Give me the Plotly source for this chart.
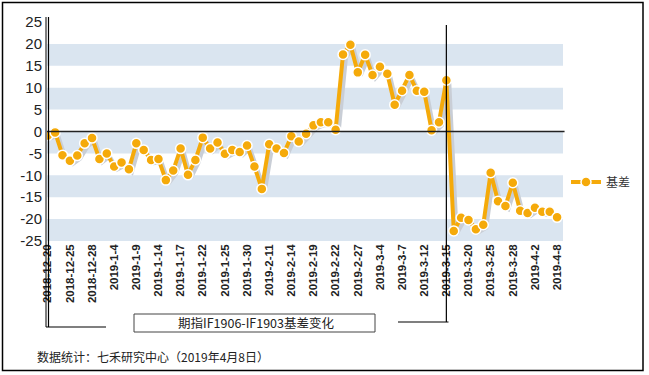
import plotly.graph_objects as go
import numpy as np

dates = ["2018-12-20","2018-12-21","2018-12-24","2018-12-25","2018-12-26","2018-12-27","2018-12-28",
         "2019-1-2","2019-1-3","2019-1-4","2019-1-7","2019-1-8","2019-1-9","2019-1-10","2019-1-11",
         "2019-1-14","2019-1-15","2019-1-16","2019-1-17","2019-1-18","2019-1-21","2019-1-22","2019-1-23",
         "2019-1-24","2019-1-25","2019-1-28","2019-1-29","2019-1-30","2019-1-31","2019-2-1",
         "2019-2-11","2019-2-12","2019-2-13","2019-2-14","2019-2-15","2019-2-18","2019-2-19","2019-2-20",
         "2019-2-21","2019-2-22","2019-2-25","2019-2-26","2019-2-27","2019-2-28","2019-3-1",
         "2019-3-4","2019-3-5","2019-3-6","2019-3-7","2019-3-8","2019-3-11","2019-3-12","2019-3-13",
         "2019-3-14","2019-3-15","2019-3-18","2019-3-19","2019-3-20","2019-3-21","2019-3-22",
         "2019-3-25","2019-3-26","2019-3-27","2019-3-28","2019-3-29","2019-4-1","2019-4-2","2019-4-3",
         "2019-4-4","2019-4-8"]

basis = [-0.9,-0.2,-5.4,-6.7,-5.5,-2.7,-1.5,-6.3,-5.0,-8.0,-7.1,-8.6,-2.7,-4.2,-6.5,-6.3,-11.1,-8.9,-3.9,
         -9.9,-6.5,-1.4,-3.9,-2.5,-5.1,-4.2,-4.7,-3.2,-8.0,-13.1,-2.9,-3.9,-4.9,-1.1,-2.3,-0.5,1.4,2.1,2.1,
         0.4,17.6,19.8,13.5,17.5,12.9,14.8,13.2,6.1,9.3,12.9,9.3,9.1,0.3,2.1,11.7,-22.7,-19.7,-20.2,-22.3,
         -21.3,-9.4,-15.9,-17.0,-11.7,-18.1,-18.6,-17.4,-18.3,-18.3,-19.6]

series_name = "基差"
y_ticks = [25, 20, 15, 10, 5, 0, -5, -10, -15, -20, -25]
title_text = "期指IF1906-IF1903基差变化"
source_text = "数据统计：七禾研究中心（2019年4月8日）"
marker_date = "2019-3-15"

W_FIG, H_FIG = 649, 375
L, R, T, B = 47, 86, 22, 134
PW, PH = W_FIG - L - R, H_FIG - T - B

def px(x):
    return (x - L) / PW

def py(y):
    return (H_FIG - B - y) / PH

x = np.arange(len(dates))
tick_idx = x[::3]
ORANGE = "#f5aa0a"

fig = go.Figure()
# shadow of the line
fig.add_trace(go.Scatter(x=x + 0.4, y=np.array(basis) - 0.7, mode="lines",
                         line=dict(color="#c9ced6", width=4), showlegend=False, hoverinfo="skip"))
fig.add_trace(go.Scatter(x=x, y=basis, mode="lines+markers", name=series_name,
                         line=dict(color=ORANGE, width=4),
                         marker=dict(size=10, color=ORANGE, line=dict(color="white", width=1.5))))

shapes = []
# bands
for lo in [15, 5, -5, -15, -25]:
    shapes.append(dict(type="rect", xref="paper", yref="y", x0=0, x1=1, y0=lo, y1=lo + 5,
                       fillcolor="#dae5f0", line=dict(width=0), layer="below"))
# zero line
shapes.append(dict(type="line", xref="paper", yref="y", x0=0, x1=1.003, y0=0, y1=0,
                   line=dict(color="#222", width=1.5)))
# y axis bracket
shapes.append(dict(type="line", xref="paper", yref="paper", x0=px(46), x1=px(46), y0=py(17), y1=py(327),
                   line=dict(color="black", width=1)))
shapes.append(dict(type="line", xref="paper", yref="paper", x0=px(48.5), x1=px(48.5), y0=py(17), y1=py(327),
                   line=dict(color="black", width=1.2)))
shapes.append(dict(type="line", xref="paper", yref="paper", x0=px(46), x1=px(106), y0=py(327), y1=py(327),
                   line=dict(color="black", width=1.2)))
# marker vertical line at 3-15
mi = dates.index(marker_date)
shapes.append(dict(type="line", xref="x", yref="paper", x0=mi, x1=mi, y0=py(25), y1=py(322),
                   line=dict(color="black", width=1.2)))
shapes.append(dict(type="line", xref="paper", yref="paper", x0=px(398), x1=px(448.5), y0=py(322), y1=py(322),
                   line=dict(color="black", width=1.2)))
# title box
shapes.append(dict(type="rect", xref="paper", yref="paper", x0=px(134), x1=px(375), y0=py(314), y1=py(332),
                   line=dict(color="#444", width=1), fillcolor="white"))
# outer border
shapes.append(dict(type="rect", xref="paper", yref="paper", x0=px(2.5), x1=px(643), y0=py(2.5), y1=py(370.5),
                   line=dict(color="black", width=1.5)))

annotations = [
    dict(text=title_text, xref="paper", yref="paper", x=px(255.5), y=py(323), showarrow=False,
         font=dict(family="Noto Sans CJK SC, Liberation Sans", size=12.5, color="#222"),
         xanchor="center", yanchor="middle"),
    dict(text=source_text, xref="paper", yref="paper", x=px(35), y=py(356), showarrow=False,
         font=dict(family="Noto Sans CJK SC, Liberation Sans", size=12, color="#222"),
         xanchor="left", yanchor="middle"),
]

fig.update_layout(
    width=W_FIG, height=H_FIG,
    margin=dict(l=L, r=R, t=T, b=B, autoexpand=False),
    paper_bgcolor="white", plot_bgcolor="white",
    shapes=shapes, annotations=annotations,
    showlegend=True,
    legend=dict(x=px(566), y=py(182), xanchor="left", yanchor="middle", itemwidth=30,
                font=dict(family="Noto Sans CJK SC", size=12, color="#333"),
                bgcolor="rgba(0,0,0,0)"),
    xaxis=dict(range=[-0.1, 69.8], tickvals=tick_idx, ticktext=[dates[i] for i in tick_idx],
               tickangle=-90, showgrid=False, zeroline=False, showline=False, ticks="",
               tickfont=dict(family="Liberation Sans", size=11.5, color="#222", weight="bold")),
    yaxis=dict(range=[-25, 25], tickvals=y_ticks, ticktext=[str(v) for v in y_ticks],
               showgrid=False, zeroline=False, showline=False, ticks="",
               tickfont=dict(family="Liberation Sans", size=15, color="#222"),
               ticklabelstandoff=4),
)

fig.write_html("out.html", config={"displayModeBar": False},
               post_script="document.body.style.margin='0';document.body.style.padding='0';")
